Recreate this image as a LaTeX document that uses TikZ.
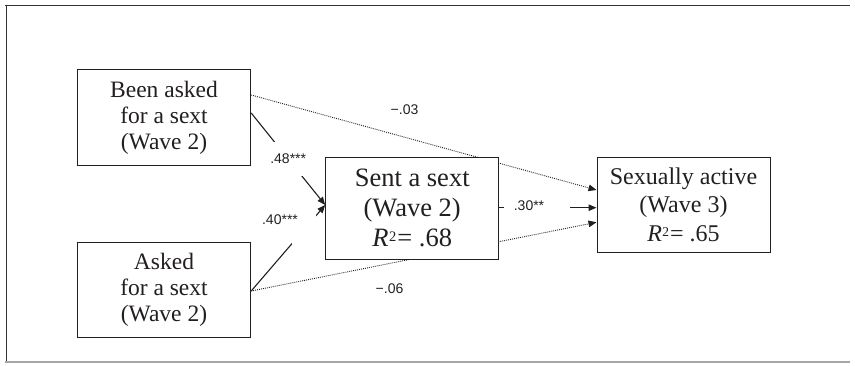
\documentclass[tikz,border=0pt]{standalone}
\usepackage{fontspec}
\setmainfont{Liberation Serif}
\newfontfamily\lblfont{Liberation Sans}
\usetikzlibrary{arrows.meta,backgrounds}
\definecolor{ink}{HTML}{231F20}
\newcommand\rsqr[2]{\textit{R}\kern0.5pt\raisebox{#2}{\fontsize{#1}{#1}\selectfont 2}\kern1pt= }
\begin{document}
\begin{tikzpicture}[x=1pt,y=-1pt,
  box/.style={draw=ink, line width=1pt, fill=white, align=center, inner sep=0pt, text=ink},
  inbox/.style={box, minimum width=173.4pt, minimum height=96pt, font=\fontsize{23.5}{25.8}\selectfont},
  midbox/.style={box, minimum width=173pt, minimum height=102pt, font=\fontsize{26.5}{30}\selectfont},
  outbox/.style={box, minimum width=173pt, minimum height=95pt, font=\fontsize{24}{28.3}\selectfont},
  tip/.tip={Triangle[length=8pt,width=6.5pt]},
  solidarrow/.style={draw=ink, line width=1.1pt, -tip},
  dotarrow/.style={draw=ink, line width=0.9pt, dash pattern=on 0.9pt off 1.1pt, -tip},
  lbl/.style={font=\lblfont\fontsize{14}{16}\selectfont, text=ink, inner sep=0pt},
  cut/.style={fill=white, inner sep=0pt}
]
\useasboundingbox (0,0) rectangle (855,366);
% frame
\draw[line width=1.4pt, black!80] (5,5.7) -- (850,5.7);
\draw[line width=1.2pt, black!80] (6.3,5) -- (6.3,362);
\draw[line width=1.2pt, black!35] (5,362) -- (850,362);

% boxes
\node[inbox] (A) at (164,118) {Been asked\\for a sext\\(Wave 2)};
\node[inbox, minimum height=95pt] (B) at (164,289.8) {Asked\\for a sext\\(Wave 2)};
\node[midbox] (C) at (412.2,208.3) {Sent a sext\\(Wave 2)\\\rsqr{14.5}{5pt}.68};
\node[outbox] (D) at (683.5,204.7) {Sexually active\\(Wave 3)\\\rsqr{13.5}{4.5pt}.65};

% dotted paths behind the boxes
\begin{pgfonlayer}{background}
\draw[dotarrow] ([yshift=23pt]A.east) -- ([yshift=14.7pt]D.west);
\draw[dotarrow] ([yshift=-1.2pt]B.east) -- ([yshift=-17.6pt]D.west);
\end{pgfonlayer}

% solid paths
\draw[solidarrow] ([yshift=5pt]A.east) -- node[cut, lbl, pos=0.5, minimum width=38pt, minimum height=34pt] {.48***} ([yshift=3.3pt]C.west);
\draw[solidarrow] ([yshift=-1.2pt]B.east) -- node[cut, pos=0.72, minimum width=24pt, minimum height=30pt] {} ([yshift=3.3pt]C.west);
\draw[solidarrow] ([yshift=0.6pt]C.east) -- node[cut, pos=0.39, minimum width=66pt, minimum height=12pt] {} ([yshift=-3pt]D.west);

% labels
\node[lbl] (l03) at (404.5,110) {−.03};
\node[lbl] (l40) at (280,219.5) {.40***};
\node[lbl] (l30) at (529,205.5) {.30**};
\node[lbl] (l06) at (389.5,288.7) {−.06};
\end{tikzpicture}
\end{document}
